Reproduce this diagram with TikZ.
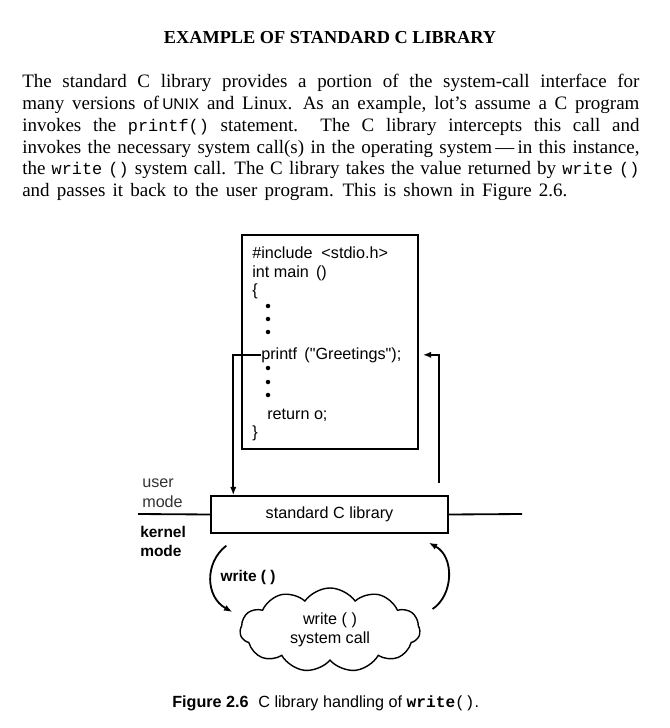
\documentclass[tikz,border=0pt]{standalone}
\usepackage{fontspec}
\setmainfont{Liberation Serif}
\setsansfont{Liberation Sans}
\setmonofont{Liberation Mono}
\usetikzlibrary{calc,arrows.meta,shapes.symbols}
\hbadness=10000
\newcommand{\bodytt}[1]{{\ttfamily\fontsize{12}{15.5}\selectfont #1}}
\begin{document}
\begin{tikzpicture}[x=0.025cm,y=-0.025cm,
    sans/.style={font=\sffamily\fontsize{11.5}{13.5}\selectfont},
    body/.style={font=\fontsize{13.5}{15.5}\selectfont,
      text width=15.425cm,align=justify,inner sep=0pt},
    code/.style={sans,anchor=base west,inner sep=0pt},
    modelbl/.style={sans,anchor=west,inner sep=0pt},
    codebox/.style={draw,line width=1pt,minimum width=4.4cm,minimum height=5.35cm},
    libbox/.style={draw,line width=1pt,sans,minimum width=5.925cm,minimum height=0.925cm},
    callcloud/.style={draw,cloud,cloud puffs=11,cloud puff arc=110,aspect=2.3,line width=1pt,
      minimum width=4.5cm,minimum height=2.1cm,sans,align=center,inner sep=0pt},
    flow/.style={line width=1.3pt,-{Latex[length=6pt,width=4.5pt]}},
    modeline/.style={line width=1.3pt}]
  \useasboundingbox (0,0) rectangle (669,728);

  \node[font=\bfseries\fontsize{13}{15}\selectfont,anchor=base,inner sep=0pt] (title) at (330,44)
    {EXAMPLE OF STANDARD C LIBRARY};
  \node[body,anchor=north west] (para) at (22,74)
    {\spaceskip=0.38em plus 0.6em minus 0.13em\relax
     The standard C library provides a portion of the system-call interface for\linebreak
     many versions of\,{\sffamily\fontsize{11}{13}\selectfont UNIX} and Linux. As an example, lot's assume a C program\linebreak
     invokes the \bodytt{printf()} statement. The C library intercepts this call and\linebreak
     invokes the necessary system call(s) in the operating system\,---\,in this instance,\linebreak
     the \bodytt{write ()} system call. The C library takes the value returned by \bodytt{write ()}\linebreak
     and passes it back to the user program. This is shown in Figure 2.6.};

  \node[codebox] (prog) at (330,342) {};
  \node[code] (inc) at (252,258) {\#include \ <stdio.h>};
  \node[code] (intmain) at (252,277) {int main \,()};
  \node[code] (lbrace) at (252,295) {\{};
  \node[code] (printf) at (261,359) {printf \,(\textquotedbl Greetings\textquotedbl);};
  \node[code] (ret) at (267,419) {return o;};
  \node[code] (rbrace) at (252,437) {\}};
  \foreach \y in {306,319,332,368,382,395} \fill (268,\y) circle (1.6pt);

  \node[libbox] (lib) at (329.5,514.5) {standard C library};
  \coordinate (ml) at (138,514);
  \coordinate (mr) at (522,514);
  \draw[modeline] (ml) -- (lib.west);
  \draw[modeline] (lib.east) -- (mr);

  \node[modelbl,text=black!80] (user) at (142,483) {user};
  \node[modelbl,text=black!80] (umode) at (142,502) {mode};
  \node[modelbl,font=\sffamily\bfseries\fontsize{11}{13}\selectfont] (kernel) at (140,532) {kernel};
  \node[modelbl,font=\sffamily\bfseries\fontsize{11}{13}\selectfont] (kmode) at (140,551) {mode};

  \draw[flow] (printf.west) -| ($(lib.north west)+(23,0)$);
  \draw[flow] ($(lib.north east)+(-10,-12)$) |- ($(prog.east |- printf.west)+(4,0)$);

  \node[callcloud] (call) at (330,630) {write ( )\\system call};
  \node[sans,font=\sffamily\bfseries\fontsize{11}{13}\selectfont] (wlbl) at (248,577) {write ( )};

  \draw[flow] ($(lib.south west)+(16,12)$) .. controls +(-22,17) and +(-27,-15) .. ($(call.west)+(-7,-18)$);
  \draw[flow] ($(call.east)+(12,-21)$) .. controls +(21,-14) and +(26,14) .. ($(lib.south east)+(-20,9)$);

  \node[sans,anchor=west,inner sep=0pt] (caption) at (172,703)
    {\textbf{Figure 2.6}\hspace{0.6em}C library handling of \texttt{\textbf{write}()}.};
\end{tikzpicture}
\end{document}
